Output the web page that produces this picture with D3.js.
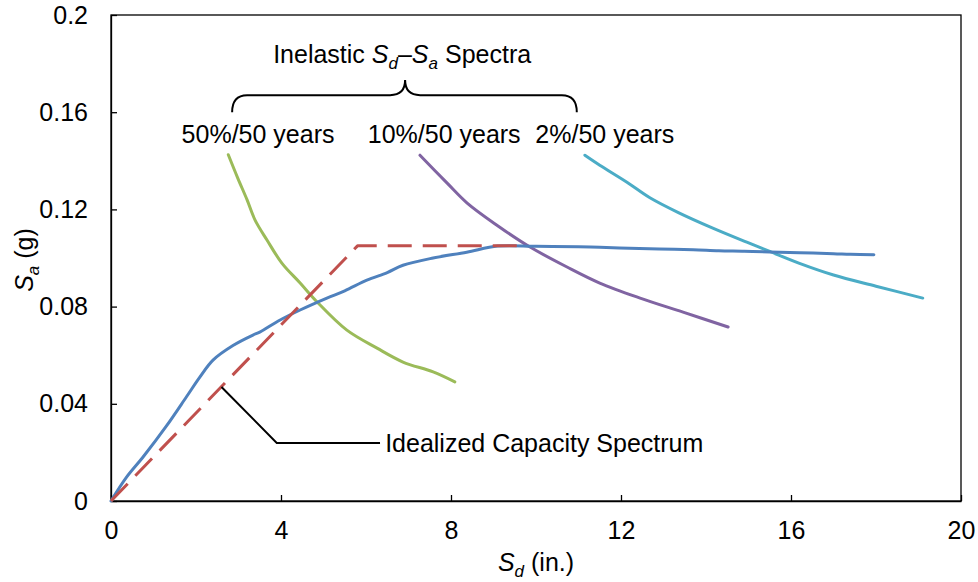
<!DOCTYPE html>
<html>
<head>
<meta charset="utf-8">
<script src="https://cdn.jsdelivr.net/npm/d3@7"></script>
<style>
  html, body { margin: 0; padding: 0; background: #fff; }
  svg text { font-family: Arial, "Liberation Sans", sans-serif; fill: #000; }
</style>
</head>
<body>
<svg id="chart" width="978" height="582"></svg>
<script>
// Capacity spectrum (Sd in inches, Sa in g)
const capacityCurve = [
  [0, 0], [0.37, 0.0099], [0.75, 0.018], [1.31, 0.031], [1.78, 0.043],
  [2.09, 0.051], [2.4, 0.058], [2.87, 0.064], [3.34, 0.0683], [3.5, 0.0695],
  [3.98, 0.0745], [4.45, 0.0786], [5.08, 0.0835], [5.5, 0.0865], [6.02, 0.0909],
  [6.5, 0.094], [6.87, 0.097], [7.58, 0.1], [8.37, 0.1024], [9.1, 0.1049],
  [10.0, 0.1048], [11.0, 0.1046], [11.5, 0.1044], [12.2, 0.104], [12.9, 0.1037],
  [13.7, 0.1034], [14.3, 0.103], [14.9, 0.1028], [15.5, 0.1025], [16.2, 0.1022],
  [17.0, 0.1018], [17.4, 0.1015], [17.95, 0.1013]
];
// Bilinear idealization of the capacity curve
const idealizedCapacity = [[0, 0], [5.8, 0.105], [9.6, 0.105]];
// Inelastic demand spectra for three hazard levels
const spectrum50in50 = [
  [2.76, 0.1425], [2.98, 0.133], [3.2, 0.124], [3.39, 0.1156], [3.67, 0.1074],
  [4.02, 0.0979], [4.45, 0.0897], [4.85, 0.0819], [5.55, 0.0703], [6.26, 0.0629],
  [6.87, 0.0572], [7.58, 0.0531], [8.09, 0.049]
];
const spectrum10in50 = [
  [7.27, 0.1423], [7.91, 0.1308], [8.38, 0.1226], [9.08, 0.1135], [9.86, 0.1045],
  [10.73, 0.0963], [11.5, 0.0897], [12.45, 0.0835], [13.46, 0.0777], [14.52, 0.0716]
];
const spectrum2in50 = [
  [11.15, 0.1423], [11.5, 0.1382], [12.14, 0.1312], [12.68, 0.1248], [13.35, 0.1187],
  [14.16, 0.1123], [14.96, 0.1065], [15.5, 0.1027], [16.2, 0.0978], [17.0, 0.093],
  [18.0, 0.0884], [19.1, 0.0835]
];
const xTicks = [0, 4, 8, 12, 16, 20];
const yTicks = [0, 0.04, 0.08, 0.12, 0.16, 0.2];
const yTickLabels = ["0", "0.04", "0.08", "0.12", "0.16", "0.2"];
const hazardLabels = ["50%/50 years", "10%/50 years", "2%/50 years"];
const hazardLabelX = [3.46, 7.84, 11.62];

const svg = d3.select("#chart");
const margin = { left: 111, right: 17, top: 15, bottom: 81 };
const W = 978, H = 582;
const x = d3.scaleLinear().domain([0, 20]).range([margin.left, W - margin.right]);
const y = d3.scaleLinear().domain([0, 0.2]).range([H - margin.bottom, margin.top]);
const fs = 25;

// Plot frame
svg.append("rect")
  .attr("x", x(0)).attr("y", y(0.2))
  .attr("width", x(20) - x(0)).attr("height", y(0) - y(0.2))
  .attr("fill", "none").attr("stroke", "#000").attr("stroke-width", 1.3);

// Axes with inward ticks
const xAxis = d3.axisBottom(x).tickValues(xTicks).tickFormat(d3.format("d"))
  .tickSizeInner(-6).tickSizeOuter(0).tickPadding(20);
const yAxis = d3.axisLeft(y).tickValues(yTicks).tickFormat((d, i) => yTickLabels[i])
  .tickSizeInner(-6).tickSizeOuter(0).tickPadding(23);

const gx = svg.append("g").attr("transform", `translate(0,${y(0)})`).call(xAxis);
const gy = svg.append("g").attr("transform", `translate(${x(0)},0)`).call(yAxis);
[gx, gy].forEach(g => {
  g.select(".domain").attr("stroke", "#000").attr("stroke-width", 1.3);
  g.selectAll(".tick line").attr("stroke", "#000").attr("stroke-width", 1.3);
  g.selectAll(".tick text").attr("font-size", fs)
    .attr("font-family", 'Arial, "Liberation Sans", sans-serif').attr("fill", "#000");
});

const straight = d3.line().x(d => x(d[0])).y(d => y(d[1]));
const smooth = d3.line().x(d => x(d[0])).y(d => y(d[1])).curve(d3.curveCatmullRom.alpha(0.5));

function drawSeries(data, color, gen, dash) {
  const p = svg.append("path").datum(data)
    .attr("d", gen).attr("fill", "none")
    .attr("stroke", color).attr("stroke-width", 3)
    .attr("stroke-linejoin", "round").attr("stroke-linecap", "round");
  if (dash) p.attr("stroke-dasharray", dash).attr("stroke-linecap", "butt");
  return p;
}

drawSeries(spectrum50in50, "#9BBB59", smooth);
drawSeries(spectrum10in50, "#8064A2", smooth);
drawSeries(spectrum2in50, "#4BACC6", smooth);
drawSeries(capacityCurve, "#4F81BD", smooth);
drawSeries(idealizedCapacity, "#C0504D", straight, "24,11");

// Axis titles with italic subscripted symbols
function symbolText(sel, sym, sub, rest) {
  sel.append("tspan").attr("font-style", "italic").text(sym);
  sel.append("tspan").attr("font-style", "italic").attr("font-size", fs * 0.68)
    .attr("dy", 6).text(sub);
  sel.append("tspan").attr("dy", -6).text(rest);
}

const xTitle = svg.append("text").attr("x", 536).attr("y", 571)
  .attr("text-anchor", "middle").attr("font-size", fs);
symbolText(xTitle, "S", "d", " (in.)");

const yTitle = svg.append("text")
  .attr("transform", `translate(33,${260}) rotate(-90)`)
  .attr("text-anchor", "middle").attr("font-size", fs);
symbolText(yTitle, "S", "a", " (g)");

// Spectra group title
const title = svg.append("text").attr("x", x(6.85)).attr("y", y(0.1802))
  .attr("text-anchor", "middle").attr("font-size", fs);
title.append("tspan").text("Inelastic ");
title.append("tspan").attr("font-style", "italic").text("S");
title.append("tspan").attr("font-style", "italic").attr("font-size", fs * 0.68).attr("dy", 6).text("d");
title.append("tspan").attr("dy", -6).text("–");
title.append("tspan").attr("font-style", "italic").text("S");
title.append("tspan").attr("font-style", "italic").attr("font-size", fs * 0.68).attr("dy", 6).text("a");
title.append("tspan").attr("dy", -6).text(" Spectra");

// Curly brace over the three hazard labels
const bx0 = x(2.85), bx1 = x(10.96), bxc = x(6.92);
const byEnd = y(0.16), byTop = y(0.167), byCusp = y(0.1732);
const r = 15;
svg.append("path")
  .attr("d", `M${bx0},${byEnd} Q${bx0},${byTop} ${bx0 + r},${byTop}` +
             ` L${bxc - r},${byTop} Q${bxc},${byTop} ${bxc},${byCusp}` +
             ` Q${bxc},${byTop} ${bxc + r},${byTop}` +
             ` L${bx1 - r},${byTop} Q${bx1},${byTop} ${bx1},${byEnd}`)
  .attr("fill", "none").attr("stroke", "#000").attr("stroke-width", 2);

svg.selectAll("text.hazard").data(hazardLabels).enter().append("text")
  .attr("class", "hazard")
  .attr("x", (d, i) => x(hazardLabelX[i])).attr("y", y(0.1473))
  .attr("text-anchor", "middle").attr("font-size", fs).text(d => d);

// Leader line to the idealized capacity curve
svg.append("path")
  .attr("d", straight([[2.6, 0.0469], [3.9, 0.0239], [6.33, 0.0239]]))
  .attr("fill", "none").attr("stroke", "#000").attr("stroke-width", 2);
svg.append("text").attr("x", x(6.45)).attr("y", y(0.0239) + 9)
  .attr("font-size", fs).text("Idealized Capacity Spectrum");
</script>
</body>
</html>
